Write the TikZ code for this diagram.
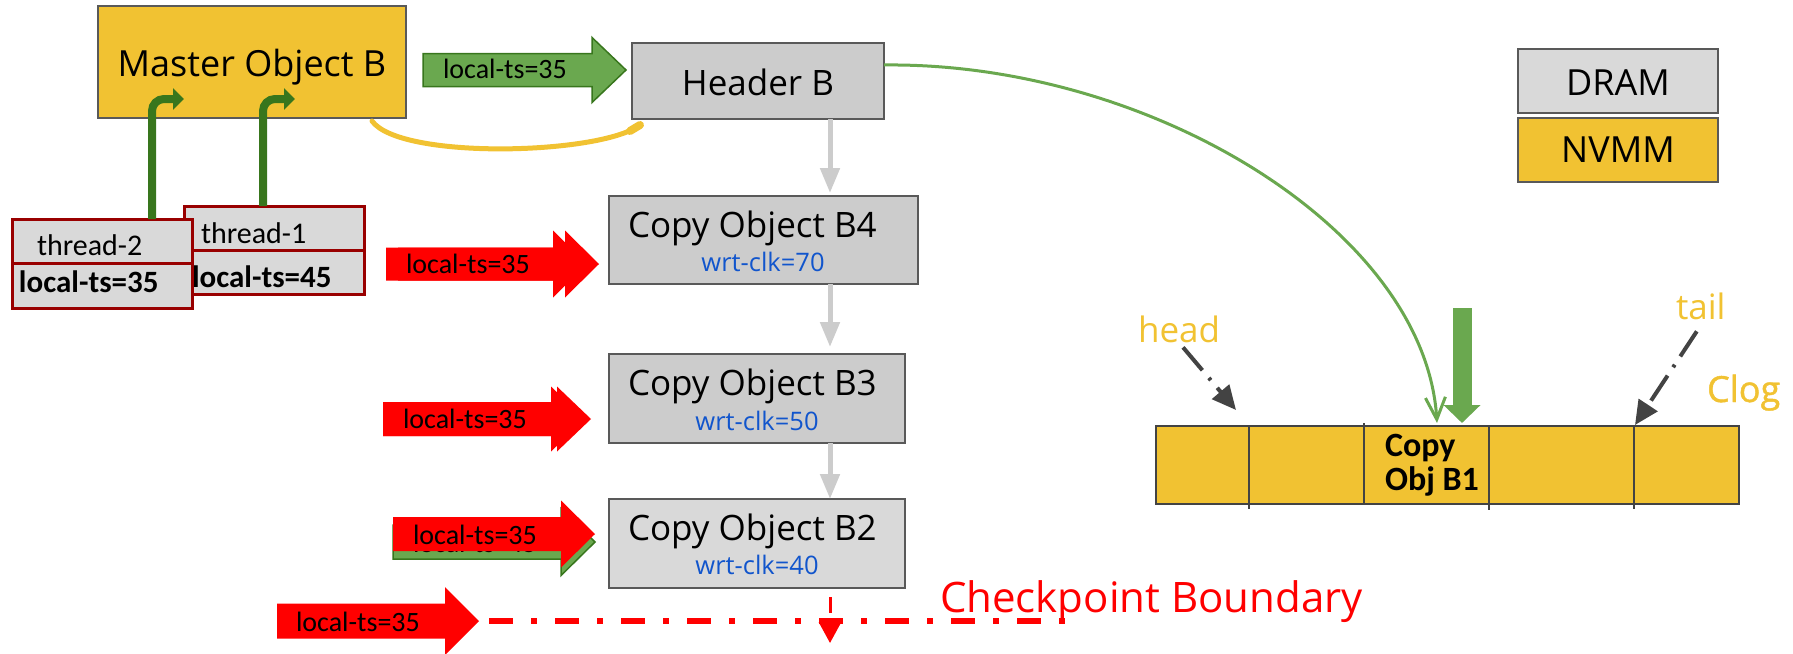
\documentclass[tikz,border=0pt]{standalone}
\usepackage{fontspec}
\setmainfont{Open Sans}
\newfontfamily\calib{Carlito}
\newfontfamily\osemi[FakeBold=1.2]{Open Sans}
\usetikzlibrary{arrows.meta}

\definecolor{nvmm}{HTML}{F1C232}
\definecolor{dramA}{HTML}{CCCCCC}
\definecolor{dramB}{HTML}{D9D9D9}
\definecolor{edge}{HTML}{595959}
\definecolor{thrred}{HTML}{990000}
\definecolor{gfill}{HTML}{6AA84F}
\definecolor{gdark}{HTML}{38761D}
\definecolor{clkblue}{HTML}{1155CC}
\definecolor{ptr}{HTML}{434343}

\newcommand\fsz[1]{\fontsize{#1pt}{#1pt}\selectfont}

\tikzset{
  lbl/.style={inner sep=0pt, outer sep=0pt},
  obox/.style={draw=edge, line width=2pt, inner sep=0pt, outer sep=0pt, anchor=north west},
  thrbox/.style={draw=thrred, line width=3pt, fill=dramB, inner sep=0pt, outer sep=0pt, anchor=north west},
  tslab/.style={lbl, anchor=base west, font={\calib\fsz{28}}},
  titlelab/.style={lbl, anchor=base west, font=\fsz{35}},
  clklab/.style={lbl, anchor=base, font=\fsz{25.5}, text=clkblue},
  redarr/.style={fill=red, draw=none},
  greenarr/.style={fill=gfill, draw=gdark, line width=1.5pt},
  grayarrow/.style={draw=dramA, line width=5pt, -{Triangle[length=25pt,width=19pt]}},
  bentarrow/.style={draw=gdark, line width=8pt, rounded corners=12pt, -{Triangle[length=11pt,width=21pt]}},
  ptrarrow/.style={draw=ptr, line width=4pt, dash pattern=on 30pt off 10pt on 3pt off 10pt, -{Triangle[length=24pt,width=22pt]}},
  pics/blockarrow/.style n args={4}{code={%
    \filldraw[#1] (0,0) -- (-34,-#3) -- (-34,-#2) -- (-#4,-#2) -- (-#4,#2) -- (-34,#2) -- (-34,#3) -- cycle;}},
}

\begin{document}
\begin{tikzpicture}[x=1pt,y=-1pt]
\useasboundingbox (0,0) rectangle (1793,653);

% master object in NVMM
\node[obox, fill=nvmm, minimum width=308pt, minimum height=112pt] (master) at (98,6) {};
\node[lbl, anchor=base, font=\fsz{36}] (mastertxt) at (252,76) {Master Object B};

% header in DRAM
\node[obox, fill=dramA, minimum width=252pt, minimum height=76pt] (header) at (632,43) {};
\node[lbl, anchor=base, font=\fsz{35}] (headertxt) at (758,95) {Header B};

% master -> header link
\draw[draw=nvmm, line width=5pt, line cap=round]
  ([xshift=-34pt,yshift=-3pt]master.south east) .. controls +(28,39) and +(-40,30) .. ([xshift=8pt,yshift=-6pt]header.south west);
\draw[draw=nvmm, line width=8pt, line cap=round]
  ([xshift=-2pt,yshift=-12pt]header.south west) -- ([xshift=8pt,yshift=-6pt]header.south west);

% reader timestamp entering the header
\pic at (626,70) {blockarrow={greenarr}{16.5}{32.5}{203}};
\node[tslab] (hdrts) at (443,78) {local-ts=35};

% thread descriptors
\node[thrbox, minimum width=180pt, minimum height=88pt] (thr1) at (184,206) {};
\draw[draw=thrred, line width=3pt] ([yshift=-44pt]thr1.north west) -- ([yshift=-44pt]thr1.north east);
\node[lbl, anchor=base west, font={\calib\fsz{30}}] (thr1name) at (201,243) {thread-1};
\node[lbl, anchor=base west, font={\calib\bfseries\fsz{31}}] (thr1ts) at (192,287) {local-ts=45};

\node[thrbox, minimum width=180pt, minimum height=89pt] (thr2) at (12,219) {};
\draw[draw=thrred, line width=3pt] ([yshift=-44pt]thr2.north west) -- ([yshift=-44pt]thr2.north east);
\node[lbl, anchor=base west, font={\calib\fsz{30}}] (thr2name) at (37,255) {thread-2};
\node[lbl, anchor=base west, font={\calib\bfseries\fsz{31}}] (thr2ts) at (19,292) {local-ts=35};

\coordinate (t2tip) at (184,99);
\coordinate (t1tip) at (295,99);
\draw[bentarrow] ([xshift=140pt]thr2.north west) |- (t2tip);
\draw[bentarrow] ([xshift=79pt]thr1.north west) |- (t1tip);

% version chain of copy objects
\node[obox, fill=dramA, minimum width=309pt, minimum height=88pt] (b4) at (609,196) {};
\node[titlelab] (b4t) at (628,237) {Copy Object B4};
\node[clklab] (b4c) at (763,271) {wrt-clk=70};

\node[obox, fill=dramA, minimum width=296pt, minimum height=89pt] (b3) at (609,354) {};
\node[titlelab] (b3t) at (628,395) {Copy Object B3};
\node[clklab] (b3c) at (757,430) {wrt-clk=50};

\node[obox, fill=dramB, minimum width=296pt, minimum height=89pt] (b2) at (609,499) {};
\node[titlelab] (b2t) at (628,540) {Copy Object B2};
\node[clklab] (b2c) at (757,574) {wrt-clk=40};

\coordinate (col) at (830,0);
\draw[grayarrow, shorten >=3pt] (header.south -| col) -- (b4.north -| col);
\draw[grayarrow, shorten >=7pt] (b4.south -| col) -- (b3.north -| col);
\draw[grayarrow] (b3.south -| col) -- (b2.north -| col);

% reader timestamps at each version
\pic at (587,264) {blockarrow={redarr}{16.5}{33.5}{201}};
\pic at (599,264) {blockarrow={redarr}{16.5}{33.5}{201}};
\node[tslab] (b4ts) at (406,273) {local-ts=35};

\pic at (585,419) {blockarrow={redarr}{17}{32.5}{202}};
\pic at (591,419) {blockarrow={redarr}{17}{32.5}{208}};
\node[tslab] (b3ts) at (403,428) {local-ts=35};

\pic at (595,542) {blockarrow={greenarr}{17}{33.5}{202}};
\node[tslab] (b2gts) at (413,552) {local-ts=45};
\pic at (595,534) {blockarrow={redarr}{17}{33.5}{202}};
\node[tslab] (b2ts) at (413,544) {local-ts=35};

\pic at (479,621) {blockarrow={redarr}{17.5}{34}{202}};
\node[tslab] (cpts) at (296,631) {local-ts=35};

% checkpoint boundary
\coordinate (ckl) at (489,621);
\coordinate (ckr) at (1069,621);
\draw[draw=red, line width=6pt, dash pattern=on 24pt off 18pt on 6pt off 18pt] (ckl) -- (ckr);
\coordinate (vtop) at (830,597);
\coordinate (vbot) at (830,643);
\draw[draw=red, line width=3pt, dash pattern=on 16pt off 9pt, -{Triangle[length=21pt,width=22pt]}] (vtop) -- (vbot);
\node[lbl, anchor=base west, font=\fsz{42}, text=red] (cktxt) at (940,612) {Checkpoint Boundary};

% circular log in NVMM
\node[obox, draw=ptr, line width=2.5pt, fill=nvmm, minimum width=583pt, minimum height=78pt] (clog) at (1156,426) {};
\draw[draw=ptr, line width=2pt] ([xshift=93pt]clog.north west) -- ([xshift=93pt,yshift=-83pt]clog.north west);
\draw[draw=ptr, line width=2pt] ([xshift=208pt,yshift=3pt]clog.north west) -- ([xshift=208pt]clog.south west);
\draw[draw=ptr, line width=2pt] ([xshift=333pt]clog.north west) -- ([xshift=333pt,yshift=-84pt]clog.north west);
\draw[draw=ptr, line width=2pt] ([xshift=478pt]clog.north west) -- ([xshift=478pt,yshift=-83pt]clog.north west);
\node[lbl, anchor=base west, font={\calib\bfseries\fsz{34}}] (b1a) at (1385,456) {Copy};
\node[lbl, anchor=base west, font={\calib\bfseries\fsz{34}}] (b1b) at (1385,490) {Obj B1};

\node[lbl, anchor=base west, font=\fsz{35}, text=nvmm] (headlbl) at (1138,342) {head};
\node[lbl, anchor=base west, font=\fsz{35}, text=nvmm] (taillbl) at (1676,319) {tail};
\node[lbl, anchor=base west, font={\osemi\fsz{36}}, text=nvmm] (cloglbl) at (1707,402) {Clog};

\draw[ptrarrow] ([xshift=4pt,yshift=-5pt]headlbl.south) -- ([xshift=80pt,yshift=16pt]clog.north west);
\draw[ptrarrow] ([xshift=-4pt,yshift=-12pt]taillbl.south) -- ([xshift=479pt,yshift=1pt]clog.north west);

% header points at the oldest copy in the log
\draw[draw=gfill, line width=3pt, -{Straight Barb[length=22pt,width=20pt]}]
  ([yshift=16pt]header.east) .. controls (1150,62) and (1425,230) .. ([xshift=281pt,yshift=3pt]clog.north west);
\coordinate (gtop) at (1462,308);
\draw[draw=gfill, line width=19pt, -{Triangle[length=18pt,width=36pt]}] (gtop) -- ([xshift=306pt,yshift=3pt]clog.north west);

% legend
\node[obox, line width=2.5pt, fill=dramB, minimum width=200pt, minimum height=64pt] (legdram) at (1518,49) {};
\node[lbl, anchor=base, font=\fsz{36}] (legdramtxt) at (1618,95) {DRAM};
\node[obox, line width=2.5pt, fill=nvmm, minimum width=200pt, minimum height=64pt] (legnvmm) at (1518,118) {};
\node[lbl, anchor=base, font=\fsz{36}] (legnvmmtxt) at (1618,162) {NVMM};
\end{tikzpicture}
\end{document}
